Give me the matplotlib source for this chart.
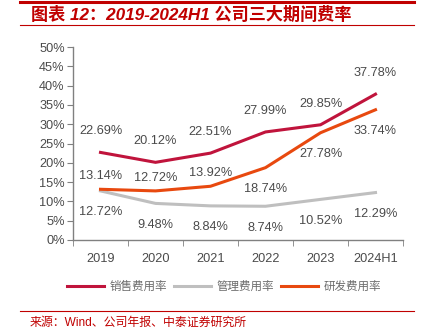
import matplotlib
matplotlib.use("Agg")
import matplotlib.pyplot as plt
from matplotlib.lines import Line2D

plt.rcParams['font.family'] = ['Liberation Sans', 'Noto Sans CJK SC', 'DejaVu Sans']

categories = ["2019", "2020", "2021", "2022", "2023", "2024H1"]
sales = [22.69, 20.12, 22.51, 27.99, 29.85, 37.78]
admin = [12.72, 9.48, 8.84, 8.74, 10.52, 12.29]
rnd = [13.14, 12.72, 13.92, 18.74, 27.78, 33.74]
series_names = ["销售费用率", "管理费用率", "研发费用率"]
rnd_label_above = [True, True, True, False, False, False]

c_sales = "#C0143C"
c_admin = "#BFBFBF"
c_rnd = "#E8490F"
c_title = "#C00000"

fig = plt.figure(figsize=(4.24, 3.29), dpi=100)
W, H = 424, 329
ax = fig.add_axes([73 / W, 1 - 240 / H, 330 / W, 193 / H])

x = list(range(len(categories)))
ax.plot(x, sales, color=c_sales, lw=2.2, solid_joinstyle='miter')
ax.plot(x, admin, color=c_admin, lw=2.2)
ax.plot(x, rnd, color=c_rnd, lw=2.2)

fs = 9.2
tc = "#4a4a4a"
for i in x:
    ax.annotate(f"{sales[i]:.2f}%", (i, sales[i]), xytext=(0, 11), textcoords='offset points',
                ha='center', va='bottom', fontsize=fs, color=tc)
    ax.annotate(f"{admin[i]:.2f}%", (i, admin[i]), xytext=(0, -11), textcoords='offset points',
                ha='center', va='top', fontsize=fs, color=tc)
    if rnd_label_above[i]:
        ax.annotate(f"{rnd[i]:.2f}%", (i, rnd[i]), xytext=(0, 5), textcoords='offset points',
                    ha='center', va='bottom', fontsize=fs, color=tc)
    else:
        ax.annotate(f"{rnd[i]:.2f}%", (i, rnd[i]), xytext=(0, -11), textcoords='offset points',
                    ha='center', va='top', fontsize=fs, color=tc)

ax.set_xlim(-0.5, len(categories) - 0.5)
ax.set_ylim(0, 50)
ax.set_yticks(range(0, 51, 5))
ax.set_yticklabels([f"{v}%" for v in range(0, 51, 5)])
ax.set_xticks(x)
ax.set_xticklabels(categories)
ax.set_xticks([i - 0.5 for i in range(len(categories) + 1)], minor=True)
ax.tick_params(axis='x', which='major', length=0, pad=9, labelsize=fs, labelcolor=tc)
ax.tick_params(axis='x', which='minor', length=4, color="#808080", direction='out')
ax.tick_params(axis='y', length=4, color="#808080", labelsize=fs, labelcolor=tc, pad=2)
for s in ['top', 'right']:
    ax.spines[s].set_visible(False)
for s in ['left', 'bottom']:
    ax.spines[s].set_color("#808080")
    ax.spines[s].set_linewidth(1.0)

# Title and rules
fig.add_artist(Line2D([20 / W, 414 / W], [1 - 2 / H, 1 - 2 / H], color=c_title, lw=2.2))
fig.add_artist(Line2D([20 / W, 414 / W], [1 - 25 / H, 1 - 25 / H], color=c_title, lw=0.8))
fig.text(31 / W, 1 - 14 / H, "图表 12：2019-2024H1 公司三大期间费率", color=c_title,
         fontsize=12.3, fontweight='bold', style='italic', va='center', ha='left')

# Legend
handles = [Line2D([], [], color=c, lw=2.2) for c in (c_sales, c_admin, c_rnd)]
fig.legend(handles, series_names, loc='center', bbox_to_anchor=(224 / W, 1 - 287 / H),
           ncol=3, frameon=False, fontsize=8.3, labelcolor="#6a6a6a", handlelength=3.2,
           columnspacing=0.6, handletextpad=0.5)

# Source
fig.add_artist(Line2D([20 / W, 414 / W], [1 - 311 / H, 1 - 311 / H], color=c_title, lw=0.8))
fig.text(30 / W, 1 - 323 / H, "来源：Wind、公司年报、中泰证券研究所", color=c_title,
         fontsize=8.6, va='center', ha='left')

fig.savefig("out.png", dpi=100)
